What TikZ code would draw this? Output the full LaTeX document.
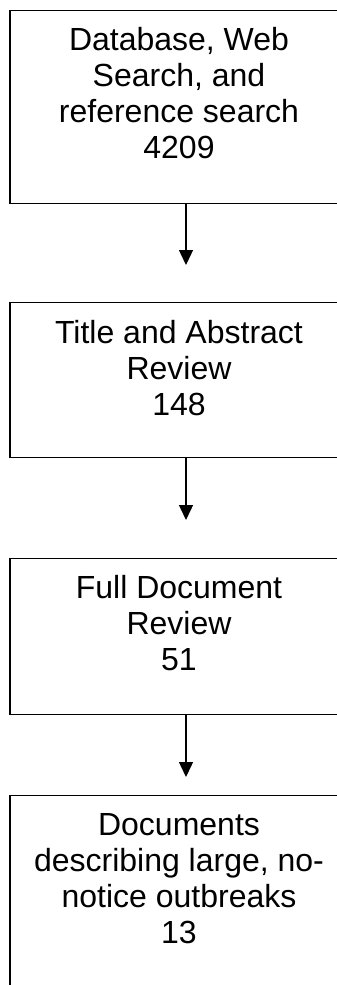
\documentclass[tikz,border=0pt]{standalone}
\usepackage{fontspec}
\setmainfont{Liberation Sans}
\usetikzlibrary{arrows.meta}
\begin{document}
\begin{tikzpicture}[x=1pt,y=-1pt,
  stagebox/.style={draw=black, line width=1.4pt, rectangle, minimum width=352pt,
    inner sep=0pt, anchor=north},
  stagetext/.style={font=\fontsize{32}{36.3}\selectfont, align=center,
    anchor=base, inner sep=0pt},
  flow/.style={draw=black, line width=1.4pt, -{Triangle[width=14pt,length=15pt]}}]
\useasboundingbox (0,0) rectangle (337,985);
\clip (0,0) rectangle (337,985);

% stage boxes
\node[stagebox, minimum height=193pt] (box1) at (186,10) {};
\node[stagebox, minimum height=155pt] (box2) at (186,302) {};
\node[stagebox, minimum height=156pt] (box3) at (186,558) {};
\node[stagebox, minimum height=200pt] (box4) at (186,795) {};

% stage labels (anchored at the baseline of the last line)
\node[stagetext] (t1) at (179,158.9) {Database, Web\\Search, and\\reference search\\4209};
\node[stagetext] (t2) at (179,415.6) {Title and Abstract\\Review\\148};
\node[stagetext] (t3) at (179,670.6) {Full Document\\Review\\51};
\node[stagetext] (t4) at (179,943.9) {Documents\\describing large, no-\\notice outbreaks\\13};

% arrow tips
\coordinate (a1) at (186,265);
\coordinate (a2) at (186,520);
\coordinate (a3) at (186,777);

\draw[flow] (box1.south) -- (a1);
\draw[flow] (box2.south) -- (a2);
\draw[flow] (box3.south) -- (a3);
\end{tikzpicture}
\end{document}
